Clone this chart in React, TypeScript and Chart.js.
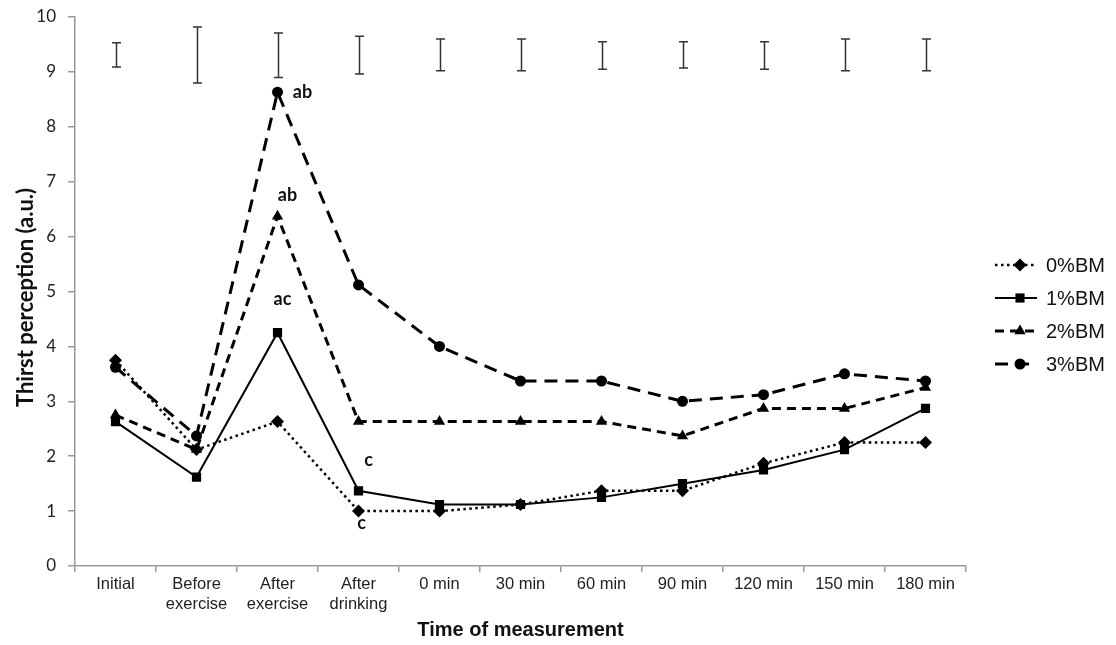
import { useEffect, useRef } from 'react';
import { Chart, registerables } from 'chart.js';

Chart.register(...registerables);

const categories: (string | string[])[] = [
  'Initial',
  ['Before', 'exercise'],
  ['After', 'exercise'],
  ['After', 'drinking'],
  '0 min',
  '30 min',
  '60 min',
  '90 min',
  '120 min',
  '150 min',
  '180 min',
];

const seriesNames = ['0%BM', '1%BM', '2%BM', '3%BM'];
const bm0 = [3.75, 2.12, 2.63, 1.0, 1.0, 1.12, 1.37, 1.37, 1.87, 2.25, 2.25];
const bm1 = [2.63, 1.62, 4.25, 1.37, 1.12, 1.12, 1.25, 1.5, 1.75, 2.12, 2.87];
const bm2 = [2.75, 2.12, 6.37, 2.63, 2.63, 2.63, 2.63, 2.37, 2.87, 2.87, 3.25];
const bm3 = [3.62, 2.37, 8.63, 5.12, 4.0, 3.37, 3.37, 3.0, 3.12, 3.5, 3.37];

// error bars drawn at the top of the chart
const errLow = [9.09, 8.8, 8.9, 8.96, 9.02, 9.02, 9.05, 9.07, 9.05, 9.02, 9.02];
const errHigh = [9.53, 9.82, 9.71, 9.65, 9.6, 9.6, 9.55, 9.55, 9.55, 9.6, 9.6];

const yMin = 0;
const yMax = 10;
const yStep = 1;

// significance letters: text, series index, category index
const annText = ['ab', 'ab', 'ac', 'c', 'c'];
const annSeries = [3, 2, 1, 1, 0];
const annCategory = [2, 2, 2, 3, 3];

const yTitle = 'Thirst perception (a.u.)';
const xTitle = 'Time of measurement';

const seriesData = [bm0, bm1, bm2, bm3];

type Style = {
  dash: number[];
  width: number;
  point: 'rectRot' | 'rect' | 'triangle' | 'circle';
  radius: number;
};

const styles: Style[] = [
  { dash: [2.5, 3.5], width: 2.5, point: 'rectRot', radius: 6.5 },
  { dash: [], width: 2, point: 'rect', radius: 6.5 },
  { dash: [9, 6], width: 3, point: 'triangle', radius: 6.5 },
  { dash: [13, 8], width: 3, point: 'circle', radius: 5.5 },
];

// pixel offsets of significance letters relative to their point
const annOffsets = [
  [25, 0],
  [10, -21],
  [5, -33],
  [10, -31],
  [3, 12],
];

function drawMarker(ctx: CanvasRenderingContext2D, kind: string, x: number, y: number, r: number) {
  ctx.beginPath();
  if (kind === 'circle') {
    ctx.arc(x, y, r, 0, Math.PI * 2);
  } else if (kind === 'rect') {
    const s = Math.SQRT1_2 * r;
    ctx.rect(x - s, y - s, 2 * s, 2 * s);
  } else if (kind === 'rectRot') {
    ctx.moveTo(x, y - r);
    ctx.lineTo(x + r, y);
    ctx.lineTo(x, y + r);
    ctx.lineTo(x - r, y);
    ctx.closePath();
  } else if (kind === 'triangle') {
    ctx.moveTo(x, y - r);
    ctx.lineTo(x + Math.cos(Math.PI / 6) * r, y + Math.sin(Math.PI / 6) * r);
    ctx.lineTo(x - Math.cos(Math.PI / 6) * r, y + Math.sin(Math.PI / 6) * r);
    ctx.closePath();
  }
  ctx.fill();
}

const overlayPlugin = {
  id: 'overlay',
  afterDatasetsDraw(chart: any) {
    const { ctx, scales, chartArea } = chart;
    const x = scales.x;
    const y = scales.y;
    ctx.save();

    // error bars
    ctx.strokeStyle = '#333';
    ctx.lineWidth = 1.5;
    ctx.setLineDash([]);
    errLow.forEach((lo, i) => {
      const px = Math.round(x.getPixelForValue(i)) + 0.5;
      const y1 = y.getPixelForValue(lo);
      const y2 = y.getPixelForValue(errHigh[i]);
      ctx.beginPath();
      ctx.moveTo(px, y1);
      ctx.lineTo(px, y2);
      ctx.moveTo(px - 4.5, y1);
      ctx.lineTo(px + 4.5, y1);
      ctx.moveTo(px - 4.5, y2);
      ctx.lineTo(px + 4.5, y2);
      ctx.stroke();
    });

    // significance letters
    ctx.fillStyle = '#111';
    ctx.font = 'bold 18px Lato';
    ctx.textAlign = 'center';
    ctx.textBaseline = 'middle';
    annText.forEach((t, i) => {
      const v = seriesData[annSeries[i]][annCategory[i]];
      const px = x.getPixelForValue(annCategory[i]) + annOffsets[i][0];
      const py = y.getPixelForValue(v) + annOffsets[i][1];
      ctx.fillText(t, px, py);
    });

    // y title
    ctx.save();
    ctx.font = 'bold 22px Lato';
    ctx.fillStyle = '#111';
    ctx.translate(26, (chartArea.top + chartArea.bottom) / 2 + 6);
    ctx.rotate(-Math.PI / 2);
    ctx.fillText(yTitle, 0, 0);
    ctx.restore();

    // legend
    const lx0 = chartArea.right + 29;
    const lx1 = lx0 + 42;
    const ly0 = 265;
    const lgap = 33;
    ctx.textAlign = 'left';
    ctx.font = '20px "Liberation Sans"';
    seriesNames.forEach((name, i) => {
      const st = styles[i];
      const ly = ly0 + i * lgap;
      ctx.strokeStyle = '#000';
      ctx.fillStyle = '#000';
      ctx.lineWidth = st.width;
      ctx.setLineDash(st.dash);
      ctx.beginPath();
      ctx.moveTo(lx0, ly);
      ctx.lineTo(lx1, ly);
      ctx.stroke();
      ctx.setLineDash([]);
      drawMarker(ctx, st.point, (lx0 + lx1) / 2 + 4, ly, st.radius);
      ctx.fillStyle = '#111';
      ctx.fillText(name, lx1 + 9, ly + 1);
    });

    ctx.restore();
  },
};

export default function App() {
  const ref = useRef<HTMLCanvasElement | null>(null);

  useEffect(() => {
    document.body.style.margin = '0';
    const canvas = ref.current;
    if (!canvas) return;
    const chart = new Chart(canvas, {
      type: 'line',
      data: {
        labels: categories,
        datasets: seriesNames.map((name, i) => ({
          label: name,
          data: seriesData[i],
          borderColor: '#000',
          backgroundColor: '#000',
          borderWidth: styles[i].width,
          borderDash: styles[i].dash,
          pointStyle: styles[i].point,
          pointRadius: styles[i].radius,
          pointBackgroundColor: '#000',
          pointBorderColor: '#000',
          pointBorderWidth: 0,
          tension: 0,
          fill: false,
        })),
      },
      options: {
        responsive: false,
        animation: false,
        layout: { padding: { left: 0, right: 150, top: 17, bottom: 2 } },
        plugins: {
          legend: { display: false },
          tooltip: { enabled: false },
        },
        scales: {
          x: {
            type: 'category',
            offset: true,
            grid: {
              offset: true,
              drawOnChartArea: false,
              drawTicks: true,
              tickLength: 6,
              color: '#999',
              lineWidth: 1.5,
            },
            border: { color: '#999', width: 1.5 },
            ticks: {
              font: { family: 'Liberation Sans', size: 16.5 },
              color: '#222',
              padding: 3,
              maxRotation: 0,
              autoSkip: false,
            },
            title: {
              display: true,
              text: xTitle,
              font: { family: 'Liberation Sans', size: 20, weight: 'bold' },
              color: '#111',
              padding: { top: 4, bottom: 1 },
            },
            afterFit: (s: any) => {
              s.height = 77;
              s.paddingLeft = 0;
              s.paddingRight = 0;
            },
          },
          y: {
            min: yMin,
            max: yMax,
            ticks: {
              stepSize: yStep,
              font: { family: 'Lato', size: 17 },
              color: '#222',
              padding: 12,
            },
            grid: {
              drawOnChartArea: false,
              drawTicks: true,
              tickLength: 7,
              color: '#999',
              lineWidth: 1.5,
            },
            border: { color: '#999', width: 1.5 },
            afterFit: (s: any) => {
              s.width = 75;
              s.paddingTop = 0;
              s.paddingBottom = 0;
            },
          },
        },
      },
      plugins: [overlayPlugin],
    } as any);
    return () => chart.destroy();
  }, []);

  return (
    <div style={{ width: 1116, height: 645 }}>
      <canvas ref={ref} width={1116} height={645} style={{ display: 'block' }} />
    </div>
  );
}
